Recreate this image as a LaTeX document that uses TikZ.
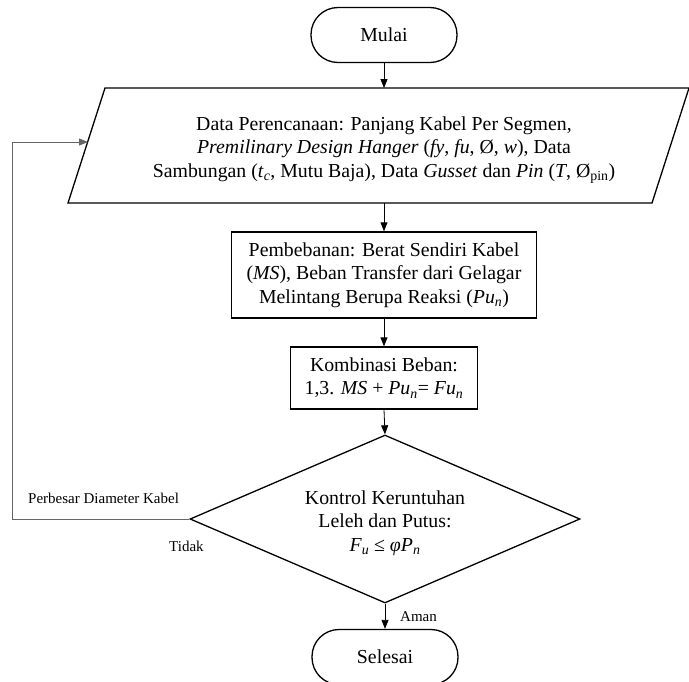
\documentclass[tikz,border=0pt]{standalone}
\usepackage{fontspec}
\setmainfont{Liberation Serif}
\usetikzlibrary{arrows.meta,shapes.geometric}
\tikzset{
  every node/.style={font=\fontsize{19.8}{23.3}\selectfont},
  termbox/.style={draw, line width=1.3pt, rounded corners=27pt, minimum width=146pt, minimum height=55pt, inner sep=0pt},
  procbox/.style={draw, line width=1.3pt, align=center, inner sep=0pt},
  decbox/.style={draw, diamond, line width=1.3pt, align=center, inner sep=0pt, minimum width=390pt, minimum height=168pt, aspect=2.32},
  conn/.style={line width=0.8pt, -{Triangle[length=9pt,width=7pt]}},
  back/.style={line width=0.9pt, draw=black!60, -{Triangle[length=9pt,width=7pt]}},
  lbl/.style={font=\fontsize{15}{17}\selectfont, inner sep=0pt}
}
\begin{document}
\begin{tikzpicture}[x=1pt,y=-1pt]
\useasboundingbox (0,0) rectangle (689,681);
% start
\node[termbox] (start) at (384,35) {Mulai};
% data parallelogram
\coordinate (p1) at (105,88);
\coordinate (p2) at (689,88);
\coordinate (p3) at (652,203);
\coordinate (p4) at (68,203);
\draw[line width=1.3pt] (p1) -- (p2) -- (p3) -- (p4) -- cycle;
\coordinate (ptop) at (384,88);
\coordinate (pbot) at (384,203);
\coordinate (pleft) at (88,142);
\node[align=center, inner sep=0pt] (data) at (384,150) {Data Perencanaan: Panjang Kabel Per Segmen,\\
\textit{Premilinary Design Hanger} (\textit{fy}, \textit{fu}, Ø, \textit{w}), Data\\
Sambungan (\textit{t}\textsubscript{\textit{c}}, Mutu Baja), Data \textit{Gusset} dan \textit{Pin} (\textit{T}, Ø\textsubscript{pin})};
% loading
\node[procbox, minimum width=305pt, minimum height=86pt] (load) at (384,275) {Pembebanan: Berat Sendiri Kabel\\
(\textit{MS}), Beban Transfer dari Gelagar\\
Melintang Berupa Reaksi (\textit{Pu}\textsubscript{\textit{n}})};
% combination
\node[procbox, minimum width=187pt, minimum height=62pt] (comb) at (384,378) {Kombinasi Beban:\\
1,3. \textit{MS} + \textit{Pu}\textsubscript{\textit{n}}= \textit{Fu}\textsubscript{\textit{n}}};
% decision
\node[decbox] (dec) at (385,519) {};
\node[align=center, inner sep=0pt] (dectext) at (385,523) {Kontrol Keruntuhan\\Leleh dan Putus:\\
\textit{F}\textsubscript{\textit{u}} ≤ \textit{φP}\textsubscript{\textit{n}}};
% end
\node[termbox] (stop) at (385,657) {Selesai};
% connectors
\draw[conn] (start.south) -- (ptop);
\draw[conn] (pbot) -- (load.north);
\draw[conn] (load.south) -- (comb.north);
\draw[conn] (comb.south) -- (dec.north);
\draw[conn] (dec.south) -- (stop.north);
\coordinate (c1) at (12,519);
\coordinate (c2) at (12,142);
\draw[back] (dec.west) -- (c1) -- (c2) -- (pleft);
% labels
\node[lbl, anchor=west] (l1) at (28,498) {Perbesar Diameter Kabel};
\node[lbl, anchor=west] (l2) at (169,546) {Tidak};
\node[lbl, anchor=west] (l3) at (400,617) {Aman};
\end{tikzpicture}
\end{document}
